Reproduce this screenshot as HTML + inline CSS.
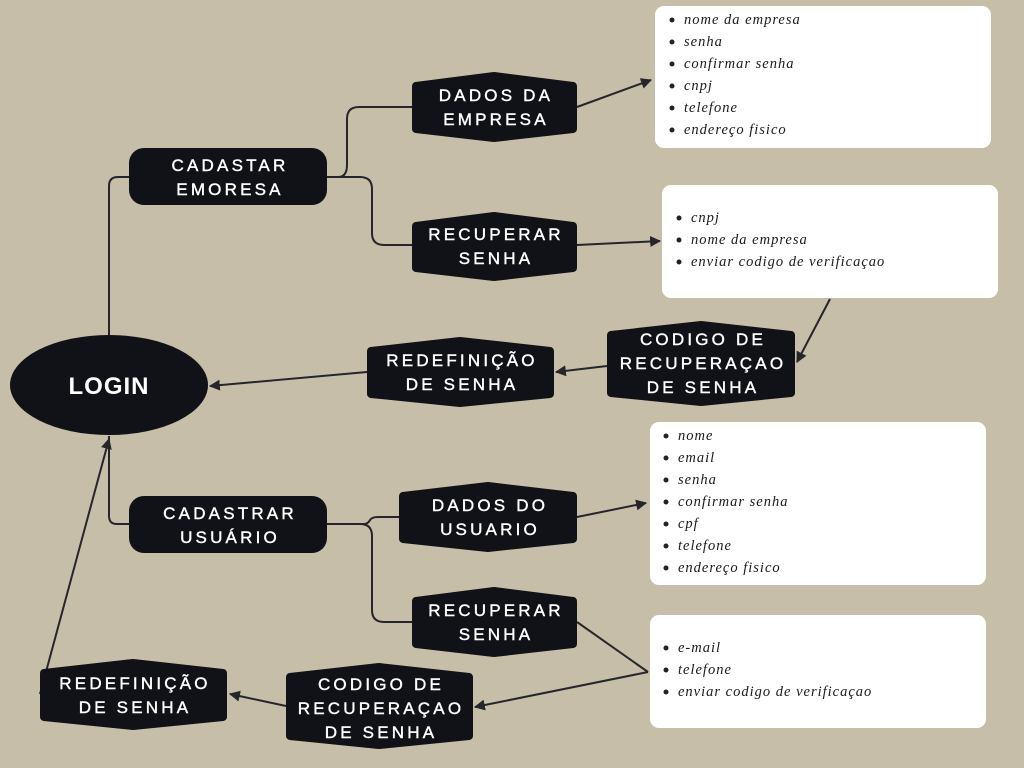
<!DOCTYPE html>
<html><head><meta charset="utf-8"><style>
html,body{margin:0;padding:0;background:#c6bea8;}
svg{display:block}
.n{fill:#fff;stroke:#fff;stroke-width:0.4;font-family:"Liberation Sans",sans-serif;font-size:17px;letter-spacing:3.2px;text-anchor:middle}
.l{fill:#1a1a1a;font-family:"Liberation Serif",serif;font-style:italic;font-size:14.5px;letter-spacing:1px}
.c{fill:none;stroke:#26262a;stroke-width:2}
.h{fill:#111217;stroke:#111217;stroke-width:8;stroke-linejoin:round}
</style></head><body>
<svg width="1024" height="768" viewBox="0 0 1024 768" xmlns="http://www.w3.org/2000/svg">
<defs><marker id="a" viewBox="0 0 10 10" refX="9" refY="5" markerWidth="5.5" markerHeight="5.5" orient="auto"><path d="M0,0L10,5L0,10z" fill="#26262a"/></marker></defs>
<path class="c" d="M109,336V186Q109,177 118,177H130"/>
<path class="c" d="M326,177H338Q347,177 347,165V119Q347,107 359,107H413"/>
<path class="c" d="M326,177H360Q372,177 372,189V233Q372,245 384,245H413"/>
<path class="c" d="M577,107L651,80" marker-end="url(#a)"/>
<path class="c" d="M577,245L660,241" marker-end="url(#a)"/>
<path class="c" d="M830,299L797,362" marker-end="url(#a)"/>
<path class="c" d="M607,366L556,372" marker-end="url(#a)"/>
<path class="c" d="M367,372L210,386" marker-end="url(#a)"/>
<path class="c" d="M109,436V516Q109,524 117,524H130"/>
<path class="c" d="M326,524H364Q368,524 370,520Q372,517 378,517H400"/>
<path class="c" d="M326,524H360Q372,524 372,536V610Q372,622 384,622H413"/>
<path class="c" d="M577,517L646,503" marker-end="url(#a)"/>
<path class="c" d="M577,622L648,672"/>
<path class="c" d="M648,672L475,707" marker-end="url(#a)"/>
<path class="c" d="M286,706L230,694" marker-end="url(#a)"/>
<path class="c" d="M40,694L109,439" marker-end="url(#a)"/>
<rect x="655" y="6" width="336" height="142" rx="9" fill="#fff"/>
<rect x="662" y="185" width="336" height="113" rx="9" fill="#fff"/>
<rect x="650" y="422" width="336" height="163" rx="9" fill="#fff"/>
<rect x="650" y="615" width="336" height="113" rx="9" fill="#fff"/>
<g fill="#222">
<circle cx="672" cy="20" r="2.5"/><circle cx="672" cy="42" r="2.5"/><circle cx="672" cy="64" r="2.5"/><circle cx="672" cy="86" r="2.5"/><circle cx="672" cy="108" r="2.5"/><circle cx="672" cy="130" r="2.5"/>
<circle cx="679" cy="218" r="2.5"/><circle cx="679" cy="240" r="2.5"/><circle cx="679" cy="262" r="2.5"/>
<circle cx="666" cy="436" r="2.5"/><circle cx="666" cy="458" r="2.5"/><circle cx="666" cy="480" r="2.5"/><circle cx="666" cy="502" r="2.5"/><circle cx="666" cy="524" r="2.5"/><circle cx="666" cy="546" r="2.5"/><circle cx="666" cy="568" r="2.5"/>
<circle cx="666" cy="648" r="2.5"/><circle cx="666" cy="670" r="2.5"/><circle cx="666" cy="692" r="2.5"/>
</g>
<g class="l">
<text x="684" y="24">nome da empresa</text><text x="684" y="46">senha</text><text x="684" y="68">confirmar senha</text><text x="684" y="90">cnpj</text><text x="684" y="112">telefone</text><text x="684" y="134">endereço fisico</text>
<text x="691" y="222">cnpj</text><text x="691" y="244">nome da empresa</text><text x="691" y="266">enviar codigo de verificaçao</text>
<text x="678" y="440">nome</text><text x="678" y="462">email</text><text x="678" y="484">senha</text><text x="678" y="506">confirmar senha</text><text x="678" y="528">cpf</text><text x="678" y="550">telefone</text><text x="678" y="572">endereço fisico</text>
<text x="678" y="652">e-mail</text><text x="678" y="674">telefone</text><text x="678" y="696">enviar codigo de verificaçao</text>
</g>
<ellipse cx="109" cy="385" rx="99" ry="50" fill="#111217"/>
<text x="109" y="394" fill="#fff" text-anchor="middle" font-family="Liberation Sans,sans-serif" font-weight="bold" font-size="24" letter-spacing="1">LOGIN</text>
<rect x="129" y="148" width="198" height="57" rx="15" fill="#111217"/>
<rect x="129" y="496" width="198" height="57" rx="15" fill="#111217"/>
<polygon class="h" points="416,86 494,76 573,86 573,129 494,138 416,129"/>
<polygon class="h" points="416,226 494,216 573,226 573,268 494,277 416,268"/>
<polygon class="h" points="611,335 701,325 791,335 791,393 701,402 611,393"/>
<polygon class="h" points="371,351 460,341 550,351 550,394 460,403 371,394"/>
<polygon class="h" points="403,496 488,486 573,496 573,539 488,548 403,539"/>
<polygon class="h" points="416,601 494,591 573,601 573,644 494,653 416,644"/>
<polygon class="h" points="290,677 379,667 469,677 469,736 379,745 290,736"/>
<polygon class="h" points="44,673 133,663 223,673 223,717 133,726 44,717"/>
<g class="n">
<text x="230" y="171">CADASTAR</text><text x="230" y="195">EMORESA</text>
<text x="496" y="101">DADOS DA</text><text x="496" y="125">EMPRESA</text>
<text x="496" y="240">RECUPERAR</text><text x="496" y="264">SENHA</text>
<text x="703" y="345">CODIGO DE</text><text x="703" y="369">RECUPERAÇAO</text><text x="703" y="393">DE SENHA</text>
<text x="462" y="366">REDEFINIÇÃO</text><text x="462" y="390">DE SENHA</text>
<text x="230" y="519">CADASTRAR</text><text x="230" y="543">USUÁRIO</text>
<text x="490" y="511">DADOS DO</text><text x="490" y="535">USUARIO</text>
<text x="496" y="616">RECUPERAR</text><text x="496" y="640">SENHA</text>
<text x="381" y="690">CODIGO DE</text><text x="381" y="714">RECUPERAÇAO</text><text x="381" y="738">DE SENHA</text>
<text x="135" y="689">REDEFINIÇÃO</text><text x="135" y="713">DE SENHA</text>
</g>
</svg>
</body></html>
